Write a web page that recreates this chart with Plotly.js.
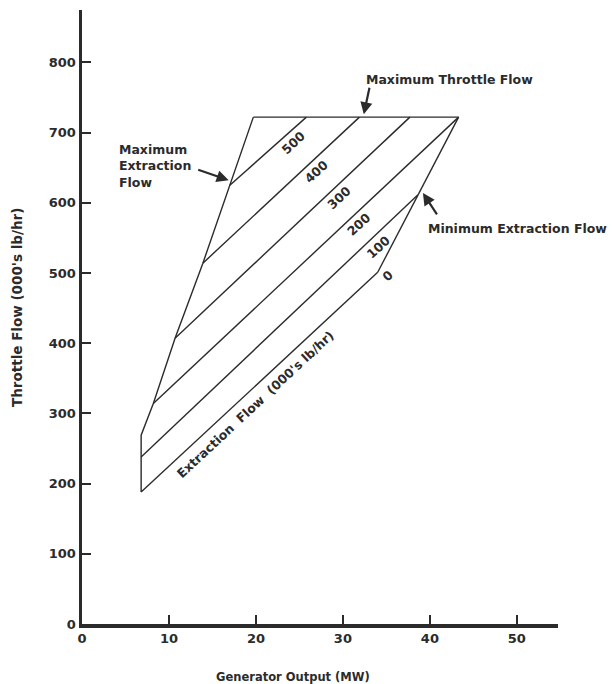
<!DOCTYPE html>
<html>
<head>
<meta charset="utf-8">
<script src="https://cdn.plot.ly/plotly-3.0.1.min.js"></script>
<style>html,body{margin:0;padding:0;background:#fff;}#chart{width:612px;height:684px;}</style>
</head>
<body>
<div id="chart"></div>
<script>
// ---- Data ----
// Constant extraction-flow lines (000's lb/hr)
const extractionFlow = [0, 100, 200, 300, 400, 500];
const lineLowMW = [6.8, 6.8, 8.2, 10.7, 13.9, 17.0];
const lineLowThrottle = [188, 238, 314, 407, 514, 625];
const lineHighMW = [34.0, 38.6, 43.3, 37.7, 31.9, 25.8];
const lineHighThrottle = [501, 611, 722, 722, 722, 722];
// Boundary curves
const maxExtractionMW = [6.8, 6.8, 8.2, 10.7, 13.9, 17.0, 19.7];
const maxExtractionThrottle = [188, 269, 314, 407, 514, 625, 722];
const maxThrottleMW = [19.7, 43.3];
const maxThrottleFlow = [722, 722];
const minExtractionMW = [34.0, 38.6, 43.3];
const minExtractionThrottle = [501, 611, 722];
// Axis ticks
const xTicks = [0, 10, 20, 30, 40, 50];
const yTicks = [0, 100, 200, 300, 400, 500, 600, 700, 800];

const INK = '#2b2b2b';
const FONT = 'DejaVu Sans, Arial, sans-serif';
const LBL = {family: FONT, size: 12.5, color: INK, weight: 'bold'};

const traces = [];
for (let i = 0; i < extractionFlow.length; i++) {
  traces.push({
    x: [lineLowMW[i], lineHighMW[i]],
    y: [lineLowThrottle[i], lineHighThrottle[i]],
    mode: 'lines', line: {color: INK, width: 1.4}, hoverinfo: 'skip', showlegend: false
  });
}
traces.push({x: maxExtractionMW, y: maxExtractionThrottle, mode: 'lines',
  line: {color: INK, width: 1.4}, showlegend: false, hoverinfo: 'skip'});
traces.push({x: maxThrottleMW, y: maxThrottleFlow, mode: 'lines',
  line: {color: INK, width: 1.4}, showlegend: false, hoverinfo: 'skip'});
traces.push({x: minExtractionMW, y: minExtractionThrottle, mode: 'lines',
  line: {color: INK, width: 1.4}, showlegend: false, hoverinfo: 'skip'});

// Labels along the extraction lines
const labelFrac = [1.0, 0.83, 0.65, 0.67, 0.68, 0.74];
const annotations = [];
for (let i = 0; i < extractionFlow.length; i++) {
  const t = labelFrac[i];
  const x = lineLowMW[i] + t * (lineHighMW[i] - lineLowMW[i]);
  const y = lineLowThrottle[i] + t * (lineHighThrottle[i] - lineLowThrottle[i]);
  annotations.push({
    x: x, y: y, xref: 'x', yref: 'y', text: String(extractionFlow[i]),
    showarrow: false, textangle: -43,
    xshift: i === 0 ? 10 : 7, yshift: i === 0 ? -3 : -7.5,
    font: LBL
  });
}
// Extraction flow label along the 0 line
{
  const t = 0.444;
  annotations.push({
    x: lineLowMW[0] + t * (lineHighMW[0] - lineLowMW[0]),
    y: lineLowThrottle[0] + t * (lineHighThrottle[0] - lineLowThrottle[0]),
    xref: 'x', yref: 'y', text: "Extraction  Flow  (000's lb/hr)",
    showarrow: false, textangle: -43, xshift: 9, yshift: -10,
    font: LBL
  });
}
// Callout texts
annotations.push({x: 42.24, y: 775, xref: 'x', yref: 'y', text: 'Maximum Throttle Flow',
  showarrow: false, font: LBL});
annotations.push({x: 4.02, y: 652, xref: 'x', yref: 'y', xanchor: 'left', align: 'left',
  text: 'Maximum<br>Extraction<br>Flow', showarrow: false, font: LBL});
annotations.push({x: 39.6, y: 564, xref: 'x', yref: 'y', xanchor: 'left',
  text: 'Minimum Extraction Flow', showarrow: false, font: LBL});
// Axis titles (positioned as in the reference, not centred on the axis)
annotations.push({x: 293, y: 684 - 677, xref: 'paper', yref: 'paper', xanchor: 'center', yanchor: 'middle',
  text: 'Generator Output (MW)',
  showarrow: false, font: {family: FONT, size: 11.5, color: INK, weight: 'bold'}});
annotations.push({x: 17, y: 684 - 308, xref: 'paper', yref: 'paper', xanchor: 'center', yanchor: 'middle',
  text: "Throttle Flow (000's lb/hr)",
  showarrow: false, textangle: -90, font: {family: FONT, size: 13.5, color: INK, weight: 'bold'}});
// Arrows
const arrowStyle = {showarrow: true, arrowhead: 2, arrowsize: 1.1, arrowwidth: 2.2, arrowcolor: INK, text: '', xref: 'x', yref: 'y'};
annotations.push(Object.assign({x: 32.4, y: 726, ax: 6, ay: -28}, arrowStyle));
annotations.push(Object.assign({x: 16.87, y: 632, ax: -32, ay: -11}, arrowStyle));
annotations.push(Object.assign({x: 39.2, y: 614, ax: 15, ay: 23}, arrowStyle));

// convert the pixel-placed axis titles to paper fractions
const L = 82, R = 54, T = 10, B = 60, W = 612, H = 684;
annotations.forEach(a => {
  if (a.xref === 'paper') {
    a.x = (a.x - L) / (W - L - R);
    a.y = (a.y - B) / (H - T - B);
  }
});

const layout = {
  width: W, height: H,
  margin: {l: L, r: R, t: T, b: B},
  paper_bgcolor: '#ffffff', plot_bgcolor: 'rgba(0,0,0,0)',
  showlegend: false,
  font: {family: FONT, color: INK},
  xaxis: {
    range: [0, 54.73], tickvals: xTicks, ticktext: xTicks.map(String),
    showgrid: false, zeroline: false, showline: true, linewidth: 3.5, linecolor: INK,
    ticks: 'inside', ticklen: 9, tickwidth: 2, tickcolor: INK,
    tickfont: {family: FONT, size: 13, color: INK, weight: 'bold'}
  },
  yaxis: {
    range: [0, 874.6], tickvals: yTicks, ticktext: yTicks.map(String),
    showgrid: false, zeroline: false, showline: true, linewidth: 3.5, linecolor: INK,
    ticks: 'inside', ticklen: 9, tickwidth: 2, tickcolor: INK,
    tickfont: {family: FONT, size: 13, color: INK, weight: 'bold'}
  },
  annotations: annotations
};

Plotly.newPlot('chart', traces, layout, {displayModeBar: false, staticPlot: true});
</script>
</body>
</html>
